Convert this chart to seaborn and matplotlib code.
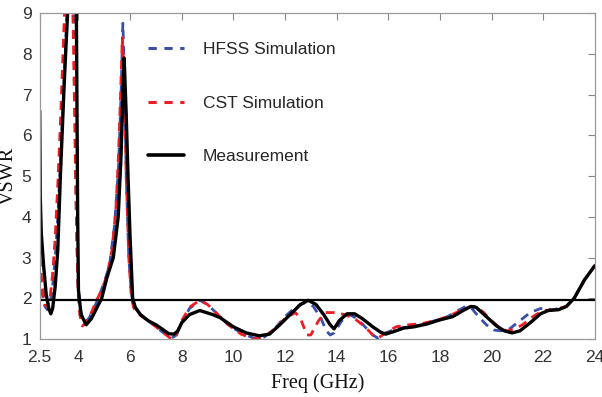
import numpy as np
import pandas as pd
import matplotlib
matplotlib.use("Agg")
import matplotlib.pyplot as plt
import seaborn as sns
from matplotlib.lines import Line2D

# ---- data: frequency (GHz) and VSWR for each trace ----
meas_f = [2.5, 2.52, 2.56, 2.65, 2.75, 2.85, 2.93, 3.0, 3.1, 3.2, 3.3, 3.45, 3.58, 3.68, 3.75, 3.85,
          3.92, 3.97, 4.0, 4.1, 4.3, 4.5, 4.7, 4.9, 5.1, 5.35, 5.54, 5.65, 5.72, 5.77, 5.85, 5.92,
          6.0, 6.1, 6.2, 6.4, 6.7, 7.0, 7.3, 7.5, 7.7, 7.85, 8.0, 8.3, 8.7, 9.2, 9.5, 10.0, 10.5,
          11.0, 11.4, 11.8, 12.2, 12.6, 12.9, 13.2, 13.5, 13.75, 13.9, 14.1, 14.4, 14.7, 15.0,
          15.4, 15.7, 15.9, 16.2, 16.6, 17.0, 17.5, 18.0, 18.5, 18.9, 19.2, 19.4, 19.8, 20.2,
          20.5, 20.8, 21.1, 21.5, 21.9, 22.2, 22.6, 22.9, 23.2, 23.6, 24.0]
meas_v = [6.6, 4.5, 3.6, 2.8, 2.1, 1.75, 1.62, 1.75, 2.3, 3.2, 5.0, 7.3, 9.0, 11.0, 12.0, 11.0,
          9.0, 4.0, 2.2, 1.6, 1.35, 1.5, 1.75, 2.0, 2.5, 3.0, 4.0, 5.5, 7.0, 7.9, 6.5, 5.0,
          3.5, 2.0, 1.78, 1.6, 1.45, 1.35, 1.22, 1.13, 1.12, 1.2, 1.4, 1.6, 1.7, 1.6, 1.52, 1.3, 1.15,
          1.08, 1.12, 1.35, 1.6, 1.85, 1.95, 1.85, 1.6, 1.35, 1.25, 1.45, 1.62, 1.62, 1.5,
          1.3, 1.17, 1.12, 1.18, 1.27, 1.3, 1.37, 1.47, 1.55, 1.7, 1.8, 1.78, 1.55, 1.32,
          1.2, 1.15, 1.2, 1.4, 1.62, 1.7, 1.72, 1.8, 2.0, 2.45, 2.8]

hfss_f = [2.5, 2.6, 2.7, 2.8, 2.9, 3.0, 3.1, 3.2, 3.3, 3.4, 3.5, 3.6, 3.7, 3.8, 3.85, 3.92, 3.98,
          4.05, 4.2, 4.4, 4.6, 4.8, 5.0, 5.2, 5.4, 5.55, 5.65, 5.72, 5.78, 5.85, 5.95, 6.05, 6.15,
          6.4, 6.7, 7.0, 7.3, 7.6, 7.8, 8.0, 8.3, 8.7, 9.0, 9.4, 9.8, 10.3, 10.8, 11.2, 11.6, 12.0,
          12.4, 12.8, 13.1, 13.4, 13.6, 13.75, 13.9, 14.2, 14.5, 14.8, 15.1, 15.4, 15.6, 15.9,
          16.3, 16.8, 17.3, 17.8, 18.3, 18.7, 19.0, 19.2, 19.5, 19.8, 20.1, 20.4, 20.7, 21.1,
          21.5, 21.9, 22.4, 22.9, 23.2, 23.6, 24.0]
hfss_v = [2.6, 2.1, 1.8, 1.72, 1.85, 2.3, 3.0, 4.0, 5.3, 6.7, 8.2, 9.8, 11.0, 10.0, 8.0, 4.0, 2.5,
          1.8, 1.4, 1.5, 1.75, 2.05, 2.4, 2.8, 3.8, 5.2, 7.0, 8.75, 7.5, 5.0, 3.0, 2.1, 1.8,
          1.6, 1.45, 1.3, 1.15, 1.02, 1.1, 1.4, 1.75, 1.95, 1.85, 1.6, 1.35, 1.15, 1.02, 1.05, 1.25, 1.55,
          1.78, 1.9, 1.8, 1.5, 1.2, 1.1, 1.15, 1.45, 1.6, 1.5, 1.3, 1.1, 1.02, 1.15,
          1.25, 1.3, 1.35, 1.45, 1.55, 1.7, 1.8, 1.78, 1.55, 1.35, 1.22, 1.2, 1.25, 1.45,
          1.65, 1.75, 1.72, 1.8, 2.0, 2.45, 2.8]

cst_f = [2.5, 2.6, 2.7, 2.78, 2.9, 3.0, 3.1, 3.2, 3.3, 3.4, 3.47, 3.6, 3.75, 3.8, 3.9, 3.98, 4.05,
         4.15, 4.3, 4.5, 4.7, 4.9, 5.1, 5.3, 5.45, 5.55, 5.63, 5.7, 5.76, 5.85, 5.95, 6.05, 6.15,
         6.4, 6.7, 7.0, 7.3, 7.6, 7.8, 8.0, 8.3, 8.7, 9.0, 9.4, 9.8, 10.3, 10.8, 11.2, 11.6, 12.0,
         12.4, 12.6, 12.85, 13.0, 13.3, 13.55, 14.0, 14.3, 14.7, 15.1, 15.4, 15.6, 15.9, 16.3,
         16.8, 17.3, 17.8, 18.3, 18.8, 19.2, 19.4, 19.7, 20.0, 20.3, 20.6, 20.9, 21.2, 21.6,
         22.0, 22.4, 22.9, 23.2, 23.6, 24.0]
cst_v = [3.0, 2.3, 1.85, 1.78, 2.0, 2.6, 3.5, 4.8, 6.3, 8.0, 9.2, 11.0, 10.0, 8.5, 4.5, 2.2, 1.6,
         1.32, 1.4, 1.65, 1.95, 2.2, 2.55, 3.2, 4.2, 5.5, 7.0, 8.4, 7.5, 5.0, 3.0, 2.0, 1.75,
         1.58, 1.45, 1.3, 1.15, 1.0, 1.12, 1.45, 1.78, 1.95, 1.85, 1.6, 1.35, 1.12, 1.0, 1.05, 1.25, 1.5,
         1.65, 1.5, 1.1, 1.1, 1.45, 1.65, 1.65, 1.6, 1.5, 1.3, 1.1, 1.02, 1.15, 1.3,
         1.35, 1.38, 1.45, 1.55, 1.7, 1.8, 1.8, 1.65, 1.45, 1.28, 1.2, 1.25, 1.35, 1.55,
         1.7, 1.72, 1.8, 2.0, 2.45, 2.8]

threshold = 1.97
x_ticks = [2.5, 4, 6, 8, 10, 12, 14, 16, 18, 20, 22, 24]
x_tick_labels = ["2.5", "4", "6", "8", "10", "12", "14", "16", "18", "20", "22", "24"]
y_ticks = [1, 2, 3, 4, 5, 6, 7, 8, 9]

sns.set_theme(style="white")
plt.rcParams["font.family"] = ["Liberation Sans", "DejaVu Sans"]

fig = plt.figure(figsize=(6.02, 3.97), dpi=100)
ax = fig.add_axes([0.066, 0.146, 0.922, 0.821])

dash = (0, (3.2, 2.4))
sns.lineplot(x=hfss_f, y=hfss_v, ax=ax, color="#3a4fa8", lw=2.0, sort=False, linestyle=dash)
sns.lineplot(x=cst_f, y=cst_v, ax=ax, color="#ee1c25", lw=2.0, sort=False, linestyle=dash)
sns.lineplot(x=meas_f, y=meas_v, ax=ax, color="black", lw=2.4, sort=False)
ax.plot([x_ticks[0], x_ticks[-1]], [threshold, threshold], color="black", lw=1.6)

ax.set_xlim(2.5, 24)
ax.set_ylim(1, 9)
ax.set_xticks(x_ticks)
ax.set_xticklabels(x_tick_labels)
ax.set_yticks(y_ticks)
ax.tick_params(direction="in", length=5, width=0.8, color="#888888", top=True, right=True,
               labelsize=12.5, labelcolor="#333333")
ax.tick_params(axis="x", pad=8)
ax.tick_params(axis="y", pad=6)
for s in ax.spines.values():
    s.set_color("#999999")
    s.set_linewidth(0.9)

ax.set_xlabel("Freq (GHz)", fontsize=14.5, family="Liberation Serif", color="#111111", labelpad=6)
ax.set_ylabel("VSWR", fontsize=14.5, family="Liberation Serif", color="#111111", labelpad=3)

handles = [
    Line2D([], [], color="#3a4fa8", lw=2.2, linestyle=(0, (2.7, 2.5))),
    Line2D([], [], color="#ee1c25", lw=2.2, linestyle=(0, (2.7, 2.5))),
    Line2D([], [], color="black", lw=2.6),
]
labels = ["HFSS Simulation", "CST Simulation", "Measurement"]
ax.legend(handles, labels, loc="upper left", bbox_to_anchor=(0.195, 0.912), frameon=False,
          fontsize=12.5, labelspacing=2.22, handlelength=2.05, handletextpad=1.1,
          borderpad=0, borderaxespad=0)

fig.savefig("out.png", dpi=100)
